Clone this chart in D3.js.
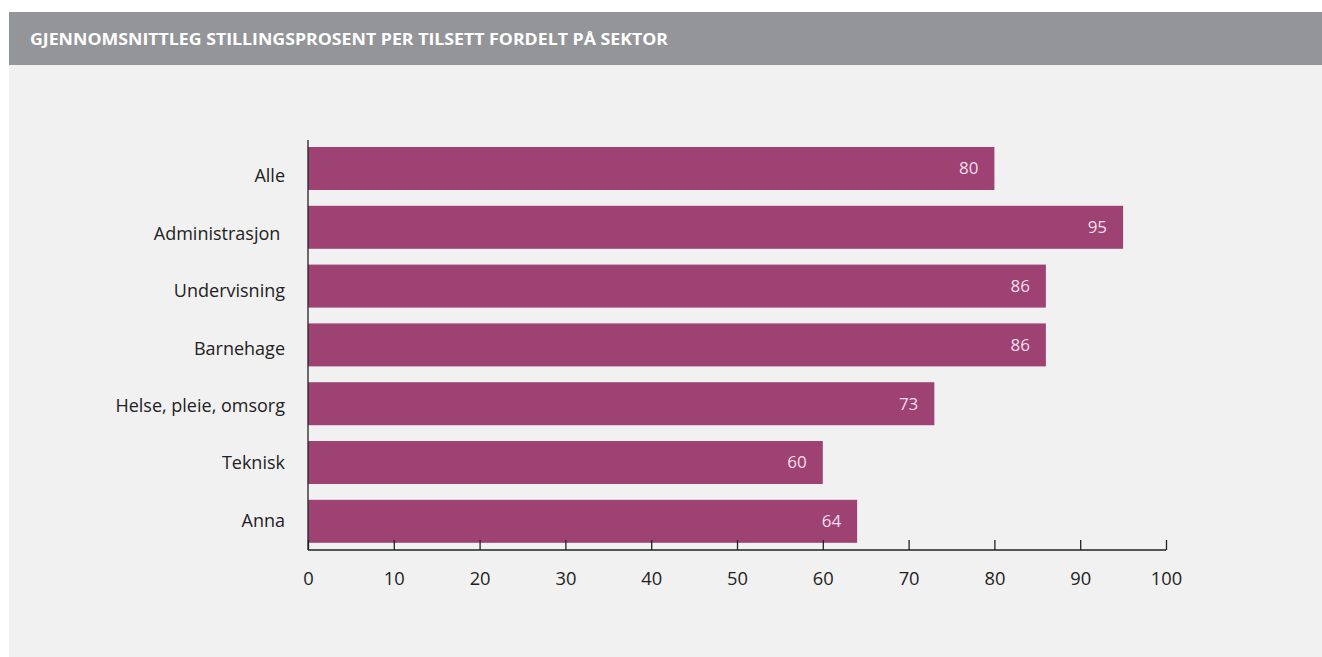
<!DOCTYPE html>
<html><head><meta charset="utf-8">
<script src="https://cdn.jsdelivr.net/npm/d3@7/dist/d3.min.js"></script>
<style>
html,body{margin:0;padding:0;background:#fff;}
svg{display:block;}
</style></head>
<body>
<svg id="chart" width="1322" height="657"></svg>
<script>
const title = "GJENNOMSNITTLEG STILLINGSPROSENT PER TILSETT FORDELT PÅ SEKTOR";
const categories = ["Alle","Administrasjon\u00a0","Undervisning","Barnehage","Helse, pleie, omsorg","Teknisk","Anna"];
const values = [80,95,86,86,73,60,64];
const xTicks = [0,10,20,30,40,50,60,70,80,90,100];

const svg = d3.select("#chart");
const font = "'Open Sans', 'Noto Sans', sans-serif";

svg.append("rect").attr("x",9).attr("y",64).attr("width",1313).attr("height",593).attr("fill","#f1f1f1");
svg.append("rect").attr("x",9).attr("y",12).attr("width",1313).attr("height",53).attr("fill","#939598");
svg.append("text").attr("x",30).attr("y",45).text(title)
  .attr("fill","#fff").attr("font-family",font).attr("font-weight","bold").attr("font-size",15.5)
  .attr("textLength",638).attr("lengthAdjust","spacingAndGlyphs");

const x = d3.scaleLinear().domain([0,100]).range([308,1166]);
const y = d3.scaleBand().domain(categories).range([147,542.8]).paddingInner(0.269).paddingOuter(0);
const yLab = d3.scalePoint().domain(categories).range([176,520.5]);

const g = svg.append("g");
g.selectAll("rect.bar").data(values).join("rect").attr("class","bar")
  .attr("x",x(0)).attr("y",(d,i)=>y(categories[i]))
  .attr("width",d=>x(d)-x(0)).attr("height",y.bandwidth())
  .attr("fill","#9e4273");

g.selectAll("text.val").data(values).join("text").attr("class","val")
  .attr("x",d=>x(d)-16).attr("y",(d,i)=>y(categories[i])+y.bandwidth()/2)
  .attr("dy","0.35em").attr("text-anchor","end")
  .attr("fill","#f5dfea").attr("font-family",font).attr("font-weight",400).attr("font-size",17)
  .text(d=>d);

g.selectAll("text.cat").data(categories).join("text").attr("class","cat")
  .attr("x",285).attr("y",d=>yLab(d))
  .attr("dy","0.35em").attr("text-anchor","end")
  .attr("fill","#222").attr("font-family",font).attr("font-weight",400).attr("font-size",18)
  .text(d=>d);

const axisY = 550;
const xa = svg.append("g").attr("transform",`translate(0,${axisY})`)
  .call(d3.axisBottom(x).tickValues(xTicks).tickSize(-10).tickPadding(0).tickFormat(d3.format("d")));
xa.select(".domain").attr("stroke","#222").attr("stroke-width",1.3).attr("d",`M${x(0)},0H${x(100)}`);
xa.selectAll(".tick line").attr("stroke","#222").attr("stroke-width",1.3);
xa.selectAll(".tick text").attr("y",29).attr("dy","0.35em").attr("font-family",font).attr("font-weight",400).attr("font-size",18.3).attr("fill","#222");

svg.append("line").attr("x1",x(0)).attr("x2",x(0)).attr("y1",140).attr("y2",axisY)
  .attr("stroke","#222").attr("stroke-width",1.3);
</script>
</body></html>
